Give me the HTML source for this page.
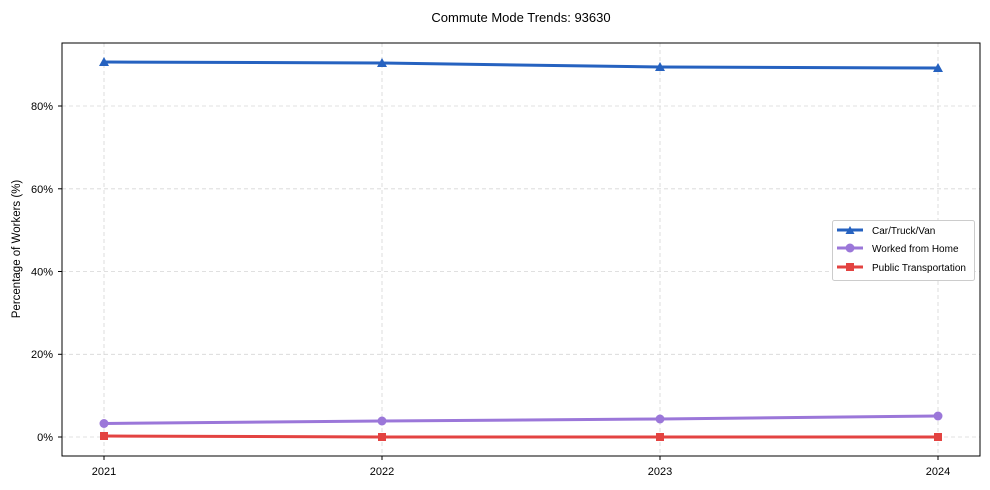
<!DOCTYPE html>
<html><head><meta charset="utf-8"><style>
html,body{margin:0;padding:0;background:#fff;}
svg{display:block;font-family:"Liberation Sans",Arial,sans-serif;}
</style></head><body>
<svg width="990" height="490" viewBox="0 0 990 490" xmlns="http://www.w3.org/2000/svg">
<rect width="990" height="490" fill="#fff"/>
<text x="521" y="22" font-size="13" text-anchor="middle" fill="#000">Commute Mode Trends: 93630</text>
<g stroke="#d6d6d6" stroke-width="0.8" stroke-dasharray="4,3">
<line x1="104" y1="43" x2="104" y2="456"/>
<line x1="382" y1="43" x2="382" y2="456"/>
<line x1="660" y1="43" x2="660" y2="456"/>
<line x1="938" y1="43" x2="938" y2="456"/>
<line x1="62" y1="437" x2="980" y2="437"/>
<line x1="62" y1="354.3" x2="980" y2="354.3"/>
<line x1="62" y1="271.5" x2="980" y2="271.5"/>
<line x1="62" y1="188.8" x2="980" y2="188.8"/>
<line x1="62" y1="106" x2="980" y2="106"/>
</g>
<rect x="62" y="43" width="918" height="413" fill="none" stroke="#000" stroke-width="1"/>
<g stroke="#000" stroke-width="1">
<line x1="58" y1="437" x2="62" y2="437"/><line x1="58" y1="354.3" x2="62" y2="354.3"/>
<line x1="58" y1="271.5" x2="62" y2="271.5"/><line x1="58" y1="188.8" x2="62" y2="188.8"/>
<line x1="58" y1="106" x2="62" y2="106"/>
<line x1="104" y1="456" x2="104" y2="460"/><line x1="382" y1="456" x2="382" y2="460"/>
<line x1="660" y1="456" x2="660" y2="460"/><line x1="938" y1="456" x2="938" y2="460"/>
</g>
<g font-size="11" fill="#000" text-anchor="end">
<text x="53" y="441">0%</text><text x="53" y="358">20%</text><text x="53" y="275.5">40%</text>
<text x="53" y="193">60%</text><text x="53" y="110">80%</text>
</g>
<g font-size="11" fill="#000" text-anchor="middle">
<text x="104" y="475">2021</text><text x="382" y="475">2022</text><text x="660" y="475">2023</text><text x="938" y="475">2024</text>
</g>
<text transform="translate(20,249) rotate(-90)" font-size="11.5" text-anchor="middle" fill="#000">Percentage of Workers (%)</text>
<polyline points="104,62 382,63 660,67 938,68" fill="none" stroke="#2662c0" stroke-width="3"/>
<g fill="#2662c0">
<polygon points="104,57 99,66 109,66"/><polygon points="382,58 377,67 387,67"/>
<polygon points="660,62 655,71 665,71"/><polygon points="938,63 933,72 943,72"/>
</g>
<polyline points="104,423.5 382,421 660,419 938,416" fill="none" stroke="#9b77d9" stroke-width="3"/>
<g fill="#9b77d9">
<circle cx="104" cy="423.5" r="4.5"/><circle cx="382" cy="421" r="4.5"/><circle cx="660" cy="419" r="4.5"/><circle cx="938" cy="416" r="4.5"/>
</g>
<polyline points="104,436 382,437 660,437 938,437" fill="none" stroke="#e34341" stroke-width="3"/>
<g fill="#e34341">
<rect x="100" y="432" width="8" height="8"/><rect x="378" y="433" width="8" height="8"/>
<rect x="656" y="433" width="8" height="8"/><rect x="934" y="433" width="8" height="8"/>
</g>
<rect x="832.5" y="220.5" width="142" height="60" rx="2" fill="#fff" stroke="#ccc" stroke-width="1"/>
<line x1="837" y1="230" x2="863" y2="230" stroke="#2662c0" stroke-width="3"/>
<polygon points="850,226 845.5,234 854.5,234" fill="#2662c0"/>
<line x1="837" y1="248" x2="863" y2="248" stroke="#9b77d9" stroke-width="3"/>
<circle cx="850" cy="248" r="4.5" fill="#9b77d9"/>
<line x1="837" y1="267" x2="863" y2="267" stroke="#e34341" stroke-width="3"/>
<rect x="846" y="263" width="8" height="8" fill="#e34341"/>
<g font-size="10" fill="#000">
<text x="872" y="234">Car/Truck/Van</text>
<text x="872" y="252">Worked from Home</text>
<text x="872" y="271">Public Transportation</text>
</g>
</svg>
</body></html>
